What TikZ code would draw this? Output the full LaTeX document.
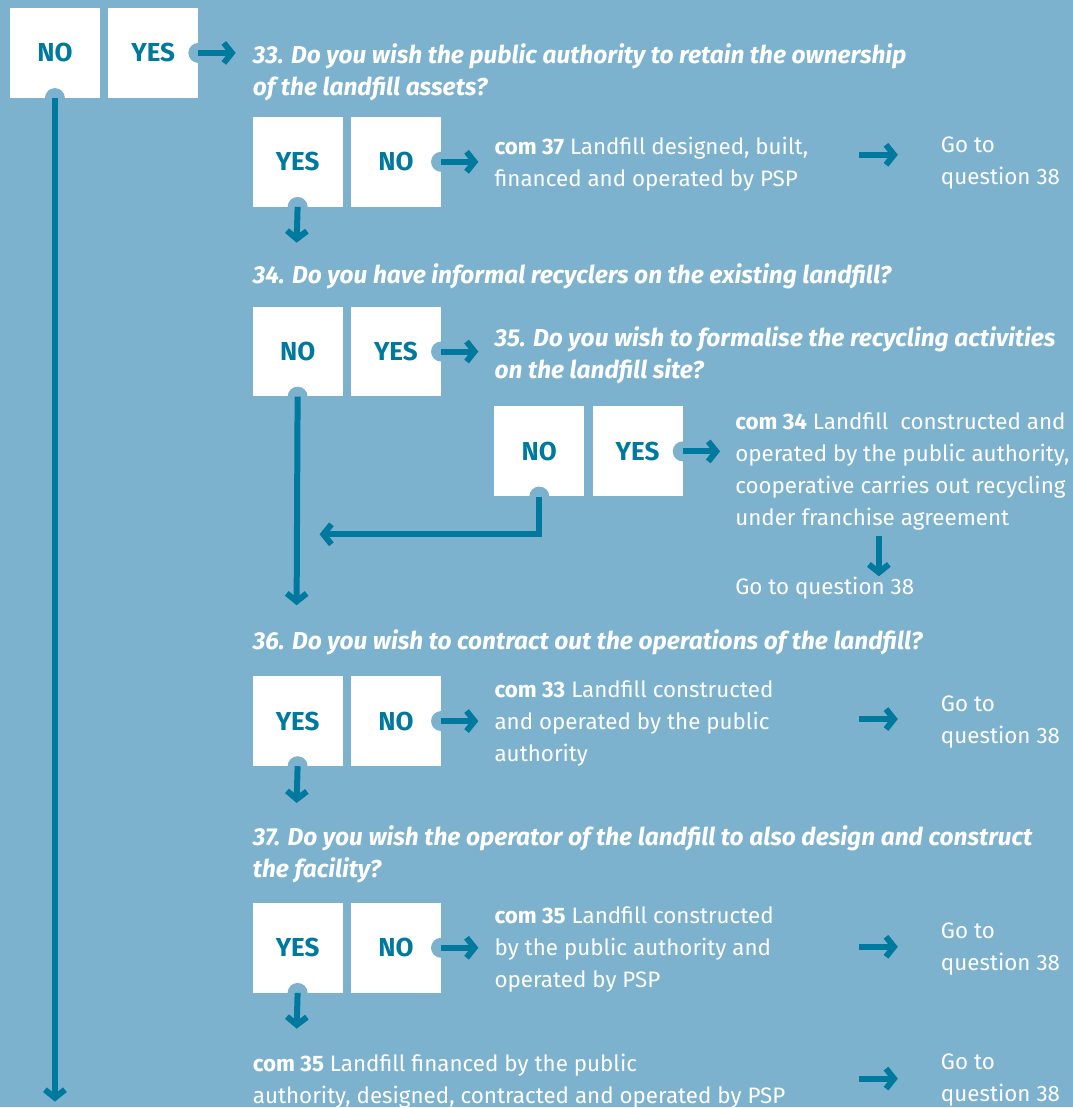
\documentclass[tikz,border=0pt]{standalone}
\usepackage{fontspec}
\setmainfont{Fira Sans}
\usetikzlibrary{arrows.meta,positioning}
\definecolor{bgblue}{HTML}{7DB2CE}
\definecolor{ink}{HTML}{00799F}

\begin{document}
\begin{tikzpicture}[x=1pt, y=-1pt,
  box/.style={fill=white, minimum size=90pt, inner sep=0pt, text=ink,
              font=\fontsize{26}{30}\selectfont\bfseries},
  notch/.style={circle, fill=bgblue, minimum size=20pt, inner sep=0pt},
  txt/.style={anchor=north west, inner sep=0pt, align=left, text=white,
              font=\fontsize{22.4}{32}\selectfont},
  qtxt/.style={txt, font=\fontsize{24.5}{32}\selectfont\bfseries\itshape},
  arr/.style={-{Straight Barb[length=8pt, width=20pt]}, line width=6pt, ink}]
  \fill[bgblue] (0,0) rectangle (1074,1108);
  % question 33
  \node[box] (no0) at (55,53) {NO};
  \node[box, right=8pt of no0] (yes0) {YES};
  \node[qtxt] (q33) at (253,44) {33. Do you wish the public authority to retain the ownership\\of the landfill assets?};
  \node[box] (yes1) at (298,162) {YES};
  \node[box, right=8pt of yes1] (no1) {NO};
  \node[txt] (com37) at (495,137) {\textbf{com 37} Landfill designed, built,\\financed and operated by PSP};
  \node[txt] (go1) at (942,137) {Go to\\question 38};
  % question 34 and 35
  \node[qtxt, anchor=west] (q34) at (253,277) {34. Do you have informal recyclers on the existing landfill?};
  \node[box] (no2) at (298,352) {NO};
  \node[box, right=8pt of no2] (yes2) {YES};
  \node[qtxt] (q35) at (495,327) {35. Do you wish to formalise the recycling activities\\on the landfill site?};
  \node[box] (no3) at (540,452) {NO};
  \node[box, right=8pt of no3] (yes3) {YES};
  \node[txt] (com34) at (736,413) {\textbf{com 34} Landfill\ \ constructed and\\operated by the public authority,\\cooperative carries out recycling\\under franchise agreement};
  \node[txt, anchor=west] (go2) at (736,589) {Go to question 38};
  % question 36
  \node[qtxt, anchor=west] (q36) at (253,643) {36. Do you wish to contract out the operations of the landfill?};
  \node[box] (yes4) at (298,722) {YES};
  \node[box, right=8pt of yes4] (no4) {NO};
  \node[txt] (com33) at (495,681) {\textbf{com 33} Landfill constructed\\and operated by the public\\authority};
  \node[txt] (go3) at (942,697) {Go to\\question 38};
  % question 37
  \node[qtxt] (q37) at (253,827) {37. Do you wish the operator of the landfill to also design and construct\\the facility?};
  \node[box] (yes5) at (298,949) {YES};
  \node[box, right=8pt of yes5] (no5) {NO};
  \node[txt] (com35a) at (495,908) {\textbf{com 35} Landfill constructed\\by the public authority and\\operated by PSP};
  \node[txt] (go4) at (942,924) {Go to\\question 38};
  \node[txt] (com35b) at (253,1055) {\textbf{com 35} Landfill financed by the public\\authority, designed, contracted and operated by PSP};
  \node[txt] (go5) at (942,1055) {Go to\\question 38};
  % notches
  \foreach \n/\a in {no0/south, yes0/east, yes1/south, no1/east, no2/south, yes2/east,
                     no3/south, yes3/east, yes4/south, no4/east, yes5/south, no5/east}
    \node[notch] (d-\n) at (\n.\a) {};
  % free ends
  \coordinate (e0) at (55,1103);
  \coordinate (e1) at (297,243);
  \coordinate (e2) at (297,606);
  \coordinate (e3) at (540,535);
  \coordinate (e3b) at (320,535);
  \coordinate (e4) at (297,804);
  \coordinate (e5) at (297,1030);
  \coordinate (s34) at (880,537);
  \coordinate (t34) at (880,577);
  % connectors
  \draw[arr] (d-no0.center) -- (e0);
  \draw[arr] (d-yes0.center) -- ([xshift=-17pt]q33.west |- yes0.east);
  \draw[arr] (d-yes1.center) -- (e1);
  \draw[arr] (d-no1.center) -- ([xshift=-16pt]com37.west |- no1.east);
  \draw[arr] (d-yes2.center) -- ([xshift=-16pt]q35.west |- yes2.east);
  \draw[arr] (d-no2.center) -- (e2);
  \draw[arr] (d-yes3.center) -- ([xshift=-15pt]com34.west |- yes3.east);
  \draw[arr] (d-no3.center) -- (e3) -- (e3b);
  \draw[arr] (s34) -- (t34);
  \draw[arr] (d-no4.center) -- ([xshift=-16pt]com33.west |- no4.east);
  \draw[arr] (d-yes4.center) -- (e4);
  \draw[arr] (d-no5.center) -- ([xshift=-16pt]com35a.west |- no5.east);
  \draw[arr] (d-yes5.center) -- (e5);
  \foreach \g/\y in {go1/155, go3/720, go4/948, go5/1080}
    \draw[arr] ([xshift=-82pt]\g.west |- 0,\y) -- ([xshift=-43pt]\g.west |- 0,\y);
\end{tikzpicture}
\end{document}
